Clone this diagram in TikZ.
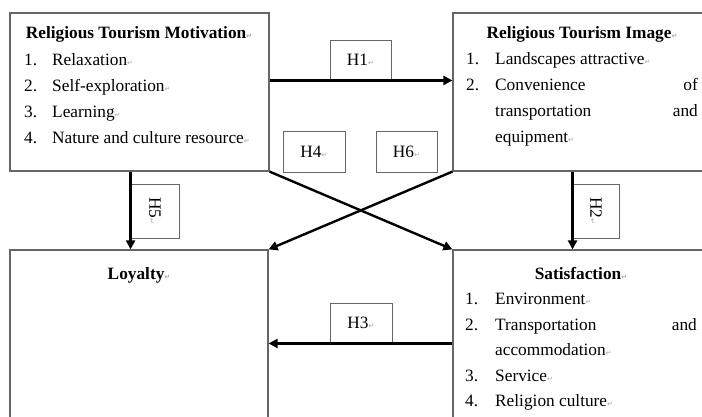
\documentclass[tikz,border=0pt]{standalone}
\usepackage{fontspec}
\setmainfont{Liberation Serif}
\newfontfamily\dejavu{DejaVu Sans}
\usetikzlibrary{arrows.meta}
\newcommand\rmk{\textcolor{gray!70}{\fontsize{7}{7}\selectfont\dejavu ↵}}
\begin{document}
\begin{tikzpicture}[x=1pt,y=-1pt,
  box/.style={draw=black!60,line width=1.2pt,rectangle,inner sep=0pt},
  hbox/.style={draw=black!60,line width=0.9pt,rectangle,inner sep=0pt,fill=white},
  txt/.style={inner sep=0pt,font=\fontsize{17.3}{20}\selectfont},
  arr/.style={line width=2.4pt,-{Triangle[length=9pt,width=9pt]}}]
\useasboundingbox (0,0) rectangle (702,417);
\clip (0,0) rectangle (702,417);
\fill[white] (0,0) rectangle (702,417);
% main boxes
\node[box,minimum width=259pt,minimum height=158pt] (mot) at (139.5,92) {};
\node[box,minimum width=260pt,minimum height=158pt] (img) at (583,92) {};
\node[box,minimum width=258pt,minimum height=190pt] (loy) at (139,345) {};
\node[box,minimum width=260pt,minimum height=190pt] (sat) at (583,345) {};
% connectors
\draw[arr] (mot.south east) -- (sat.north west);
\draw[arr] (img.south west) -- (loy.north east);
% label boxes
\node[hbox,minimum width=61pt,minimum height=40pt] (h1) at (360.5,60) {};
\node[hbox,minimum width=62pt,minimum height=41pt] (h4) at (314,151.5) {};
\node[hbox,minimum width=61pt,minimum height=41pt] (h6) at (406.5,151.5) {};
\node[hbox,minimum width=48pt,minimum height=54pt] (h5) at (155,211) {};
\node[hbox,minimum width=46pt,minimum height=54pt] (h2) at (596,211) {};
\node[hbox,minimum width=62pt,minimum height=40pt] (h3) at (361,323) {};
\draw[arr] (mot.east |- h1.south) -- (img.west |- h1.south);
\draw[arr] (h5.west |- mot.south) -- (h5.west |- loy.north);
\draw[arr] (h2.west |- img.south) -- (h2.west |- sat.north);
\draw[arr] (sat.west |- h3.south) -- (loy.east |- h3.south);
% label texts
\node[txt] (t1) at (h1) {H1\rmk};
\node[txt] (t4) at (h4) {H4\rmk};
\node[txt] (t6) at (h6) {H6\rmk};
\node[txt,rotate=-90] (t5) at (h5) {H5\rmk};
\node[txt,rotate=-90] (t2) at (h2) {H2\rmk};
\node[txt] (t3) at (h3) {H3\rmk};
% Motivation
\node[txt,anchor=base,font=\fontsize{17.3}{20}\selectfont\bfseries] (mtitle) at (139,39) {Religious Tourism Motivation\rmk};
\node[txt,anchor=base west] (mn1) at (24,66) {1.};
\node[txt,anchor=base west] (m1) at (52,66) {Relaxation\rmk};
\node[txt,anchor=base west] (mn2) at (24,92) {2.};
\node[txt,anchor=base west] (m2) at (52,92) {Self-exploration\rmk};
\node[txt,anchor=base west] (mn3) at (24,118) {3.};
\node[txt,anchor=base west] (m3) at (52,118) {Learning\rmk};
\node[txt,anchor=base west] (mn4) at (24,144) {4.};
\node[txt,anchor=base west] (m4) at (52,144) {Nature and culture resource\rmk};
% Image
\node[txt,anchor=base,font=\fontsize{17.3}{20}\selectfont\bfseries] (ititle) at (582,39) {Religious Tourism Image\rmk};
\node[txt,anchor=base west] (in1) at (466,65) {1.};
\node[txt,anchor=base west] (i1) at (495,65) {Landscapes attractive\rmk};
\node[txt,anchor=base west] (in2) at (466,91) {2.};
\node[txt,anchor=base west] (i2) at (495,91) {Convenience};
\node[txt,anchor=base east] (i2b) at (698,91) {of};
\node[txt,anchor=base west] (i3) at (495,117) {transportation};
\node[txt,anchor=base east] (i3b) at (698,117) {and};
\node[txt,anchor=base west] (i4) at (495,143) {equipment\rmk};
% Loyalty
\node[txt,anchor=base,font=\fontsize{17.3}{20}\selectfont\bfseries] (ltitle) at (139,279) {Loyalty\rmk};
% Satisfaction
\node[txt,anchor=base,font=\fontsize{17.3}{20}\selectfont\bfseries] (stitle) at (581,279) {Satisfaction\rmk};
\node[txt,anchor=base west] (sn1) at (465,304) {1.};
\node[txt,anchor=base west] (s1) at (495,304) {Environment\rmk};
\node[txt,anchor=base west] (sn2) at (465,330) {2.};
\node[txt,anchor=base west] (s2) at (495,330) {Transportation};
\node[txt,anchor=base east] (s2b) at (697,330) {and};
\node[txt,anchor=base west] (s3) at (495,355) {accommodation\rmk};
\node[txt,anchor=base west] (sn4) at (465,381) {3.};
\node[txt,anchor=base west] (s4) at (495,381) {Service\rmk};
\node[txt,anchor=base west] (sn5) at (465,406) {4.};
\node[txt,anchor=base west] (s5) at (495,406) {Religion culture\rmk};
\end{tikzpicture}
\end{document}
